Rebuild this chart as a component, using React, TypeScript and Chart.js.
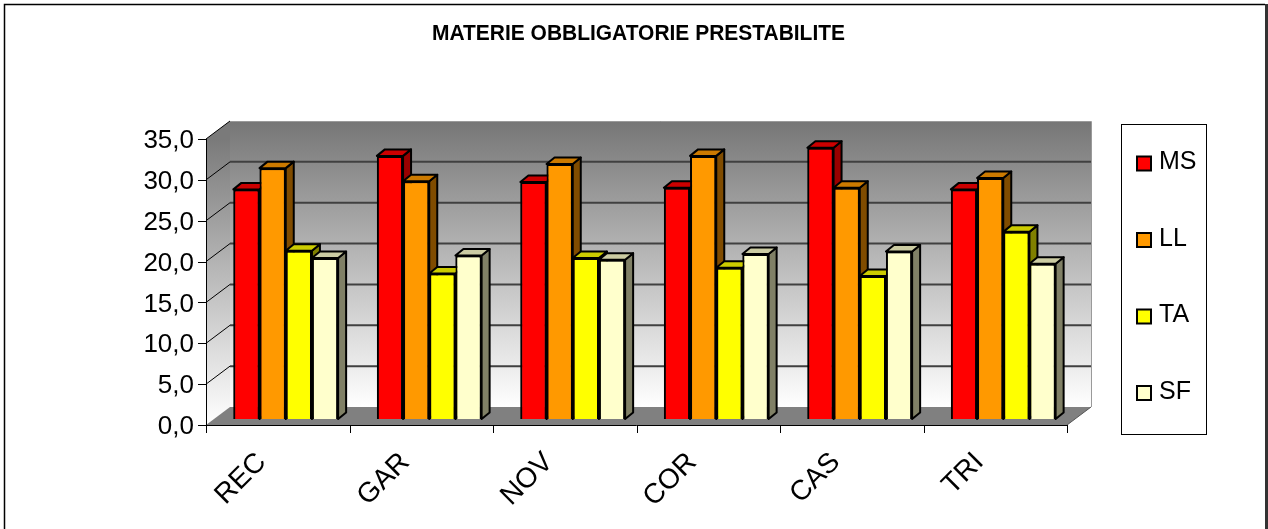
import React, { useEffect, useRef } from "react";
import { Chart, registerables } from "chart.js";

Chart.register(...registerables);

const TITLE = "MATERIE OBBLIGATORIE PRESTABILITE";
const categories = ["REC", "GAR", "NOV", "COR", "CAS", "TRI"];
const seriesNames = ["MS", "LL", "TA", "SF"];
const msValues = [28.1, 32.2, 29.0, 28.3, 33.2, 28.1];
const llValues = [30.7, 29.1, 31.2, 32.2, 28.3, 29.5];
const taValues = [20.6, 17.8, 19.7, 18.5, 17.5, 22.9];
const sfValues = [19.7, 20.0, 19.5, 20.2, 20.5, 19.0];
const yTickValues = [0, 5, 10, 15, 20, 25, 30, 35];

const frontColors = ["#FF0000", "#FF9900", "#FFFF00", "#FFFFCC"];
const topColors = ["#CC0000", "#CC7A00", "#CCCC00", "#CCCCA3"];
const sideColors = ["#990000", "#804C00", "#808000", "#808066"];

const FONT = '"Liberation Sans", Arial, Helvetica, sans-serif';

// depth geometry (pixels)
const FRONT_DX = -8;
const FRONT_DY = 6;
const BACK_DX = 16;
const BACK_DY = -12;
const BAR_DX = 8;
const BAR_DY = 6.5;

const wallPlugin = {
  id: "wall3d",
  beforeDatasetsDraw(chart: any) {
    const { ctx, chartArea, scales } = chart;
    const ys = scales.y;
    const l = chartArea.left;
    const r = chartArea.right;
    const yMin = ys.getPixelForValue(0);
    const yMax = ys.getPixelForValue(35);
    const fL = l + FRONT_DX;
    const fR = r + FRONT_DX;
    const bL = l + BACK_DX;
    const bR = r + BACK_DX;
    ctx.save();
    const g = ctx.createLinearGradient(0, yMax + BACK_DY, 0, yMin + BACK_DY);
    g.addColorStop(0, "#767676");
    g.addColorStop(1, "#FFFFFF");
    ctx.fillStyle = g;
    ctx.fillRect(bL, yMax + BACK_DY, bR - bL, yMin - yMax);
    const g2 = ctx.createLinearGradient(0, yMax + FRONT_DY, 0, yMin + FRONT_DY);
    g2.addColorStop(0, "#7a7a7a");
    g2.addColorStop(1, "#FFFFFF");
    ctx.fillStyle = g2;
    ctx.beginPath();
    ctx.moveTo(fL, yMin + FRONT_DY);
    ctx.lineTo(fL, yMax + FRONT_DY);
    ctx.lineTo(bL, yMax + BACK_DY);
    ctx.lineTo(bL, yMin + BACK_DY);
    ctx.closePath();
    ctx.fill();
    ctx.fillStyle = "#808080";
    ctx.beginPath();
    ctx.moveTo(fL, yMin + FRONT_DY);
    ctx.lineTo(fR, yMin + FRONT_DY);
    ctx.lineTo(bR, yMin + BACK_DY);
    ctx.lineTo(bL, yMin + BACK_DY);
    ctx.closePath();
    ctx.fill();
    yTickValues.forEach((v) => {
      const y = ys.getPixelForValue(v);
      if (v > 0 && v < 35) {
        ctx.strokeStyle = "#404040";
        ctx.lineWidth = 2;
        ctx.beginPath();
        ctx.moveTo(bL, y + BACK_DY);
        ctx.lineTo(bR, y + BACK_DY);
        ctx.stroke();
      }
      if (v > 0) {
        ctx.strokeStyle = "#000";
        ctx.lineWidth = 1;
        ctx.beginPath();
        ctx.moveTo(fL, y + FRONT_DY);
        ctx.lineTo(bL, y + BACK_DY);
        ctx.stroke();
      }
    });
    ctx.strokeStyle = "#9a9a9a";
    ctx.lineWidth = 1;
    ctx.beginPath();
    ctx.moveTo(bL, yMax + BACK_DY + 0.5);
    ctx.lineTo(bR + 0.5, yMax + BACK_DY + 0.5);
    ctx.lineTo(bR + 0.5, yMin + BACK_DY);
    ctx.stroke();
    ctx.strokeStyle = "#555";
    ctx.beginPath();
    ctx.moveTo(fR, yMin + FRONT_DY);
    ctx.lineTo(bR, yMin + BACK_DY);
    ctx.stroke();
    ctx.strokeStyle = "#000";
    ctx.lineWidth = 1;
    ctx.beginPath();
    ctx.moveTo(fL + 0.5, yMax + FRONT_DY);
    ctx.lineTo(fL + 0.5, yMin + FRONT_DY + 0.5);
    ctx.lineTo(fR, yMin + FRONT_DY + 0.5);
    ctx.stroke();
    yTickValues.forEach((v) => {
      const y = Math.round(ys.getPixelForValue(v) + FRONT_DY) + 0.5;
      ctx.beginPath();
      ctx.moveTo(fL - 8, y);
      ctx.lineTo(fL + 0.5, y);
      ctx.stroke();
    });
    const n = categories.length;
    for (let k = 0; k <= n; k++) {
      const x = Math.round(fL + ((fR - fL) * k) / n) + 0.5;
      ctx.beginPath();
      ctx.moveTo(x, yMin + FRONT_DY);
      ctx.lineTo(x, yMin + FRONT_DY + 8);
      ctx.stroke();
    }
    ctx.restore();
  },
  afterDatasetsDraw(chart: any) {
    const { ctx } = chart;
    const nSeries = chart.data.datasets.length;
    // repaint bars in painter's order (left series first), adding 3D faces
    for (let i = 0; i < nSeries; i++) {
      const meta = chart.getDatasetMeta(i);
      meta.data.forEach((el: any) => {
        el.draw(ctx);
        const p = el.getProps(["x", "y", "base", "width"], true);
        const l = p.x - p.width / 2;
        const r = p.x + p.width / 2;
        const t = p.y;
        const b = p.base;
        ctx.save();
        ctx.lineWidth = 2;
        ctx.lineJoin = "round";
        ctx.strokeStyle = "#000";
        ctx.fillStyle = sideColors[i];
        ctx.beginPath();
        ctx.moveTo(r, t);
        ctx.lineTo(r + BAR_DX, t - BAR_DY);
        ctx.lineTo(r + BAR_DX, b - BAR_DY);
        ctx.lineTo(r, b);
        ctx.closePath();
        ctx.fill();
        ctx.stroke();
        ctx.fillStyle = topColors[i];
        ctx.beginPath();
        ctx.moveTo(l, t);
        ctx.lineTo(l + BAR_DX, t - BAR_DY);
        ctx.lineTo(r + BAR_DX, t - BAR_DY);
        ctx.lineTo(r, t);
        ctx.closePath();
        ctx.fill();
        ctx.stroke();
        ctx.restore();
      });
    }
  },
  afterDraw(chart: any) {
    const { ctx } = chart;
    ctx.save();
    // title (slightly condensed bold)
    ctx.font = `bold 22px ${FONT}`;
    ctx.fillStyle = "#000";
    ctx.textAlign = "center";
    ctx.textBaseline = "middle";
    const w = ctx.measureText(TITLE).width;
    const sx = Math.min(1, 413 / w);
    ctx.save();
    ctx.translate(638.5, 34);
    ctx.scale(sx, 1);
    ctx.fillText(TITLE, 0, 0);
    ctx.restore();
    // legend box
    ctx.strokeStyle = "#000";
    ctx.lineWidth = 1;
    ctx.strokeRect(1121.5, 124.5, 85, 310);
    chart.data.datasets.forEach((ds: any, i: number) => {
      const cy = 163.5 + i * 76.5;
      ctx.fillStyle = ds.backgroundColor;
      ctx.fillRect(1137, cy - 7, 14, 14);
      ctx.lineWidth = 2;
      ctx.strokeRect(1137, cy - 7, 14, 14);
      ctx.fillStyle = "#000";
      ctx.font = `25px ${FONT}`;
      ctx.textAlign = "left";
      ctx.textBaseline = "middle";
      ctx.fillText(ds.label, 1159, cy - 1);
    });
    // outer frame
    ctx.strokeStyle = "#000";
    ctx.lineWidth = 1.5;
    ctx.beginPath();
    ctx.moveTo(4.5, 529);
    ctx.lineTo(4.5, 4.5);
    ctx.lineTo(1265, 4.5);
    ctx.stroke();
    ctx.fillStyle = "#333";
    ctx.fillRect(1265, 4, 3, 525);
    ctx.restore();
  },
};

export default function App() {
  const ref = useRef<HTMLCanvasElement | null>(null);
  useEffect(() => {
    if (!ref.current) return;
    const allValues = [msValues, llValues, taValues, sfValues];
    const chart = new Chart(ref.current, {
      type: "bar",
      data: {
        labels: categories,
        datasets: seriesNames.map((name, i) => ({
          label: name,
          data: allValues[i],
          backgroundColor: frontColors[i],
          borderColor: "#000",
          borderWidth: 2,
          categoryPercentage: 0.73,
          barPercentage: 1.0,
          clip: false as any,
        })),
      },
      options: {
        responsive: false,
        animation: false,
        layout: { padding: { left: 0, right: 193, top: 133, bottom: 0 } },
        plugins: {
          legend: { display: false },
          tooltip: { enabled: false },
          title: { display: false },
        },
        scales: {
          x: {
            grid: { display: false, drawTicks: false },
            border: { display: false },
            ticks: {
              minRotation: 45,
              maxRotation: 45,
              autoSkip: false,
              labelOffset: -24,
              padding: 27,
              color: "#000",
              font: { family: FONT, size: 28 },
            },
            afterFit: (s: any) => {
              s.height = 110;
            },
          },
          y: {
            min: 0,
            max: 35,
            grid: { display: false, drawTicks: false },
            border: { display: false },
            ticks: {
              stepSize: 5,
              padding: 20,
              labelOffset: 8,
              color: "#000",
              font: { family: FONT, size: 26 },
              callback: (v: any) => Number(v).toFixed(1).replace(".", ","),
            },
            afterFit: (s: any) => {
              s.width = 214;
            },
          },
        },
      },
      plugins: [wallPlugin],
    });
    return () => chart.destroy();
  }, []);
  return (
    <div style={{ position: "absolute", left: 0, top: 0, width: 1268, height: 529, background: "#fff" }}>
      <canvas ref={ref} width={1268} height={529} style={{ display: "block" }} />
    </div>
  );
}
